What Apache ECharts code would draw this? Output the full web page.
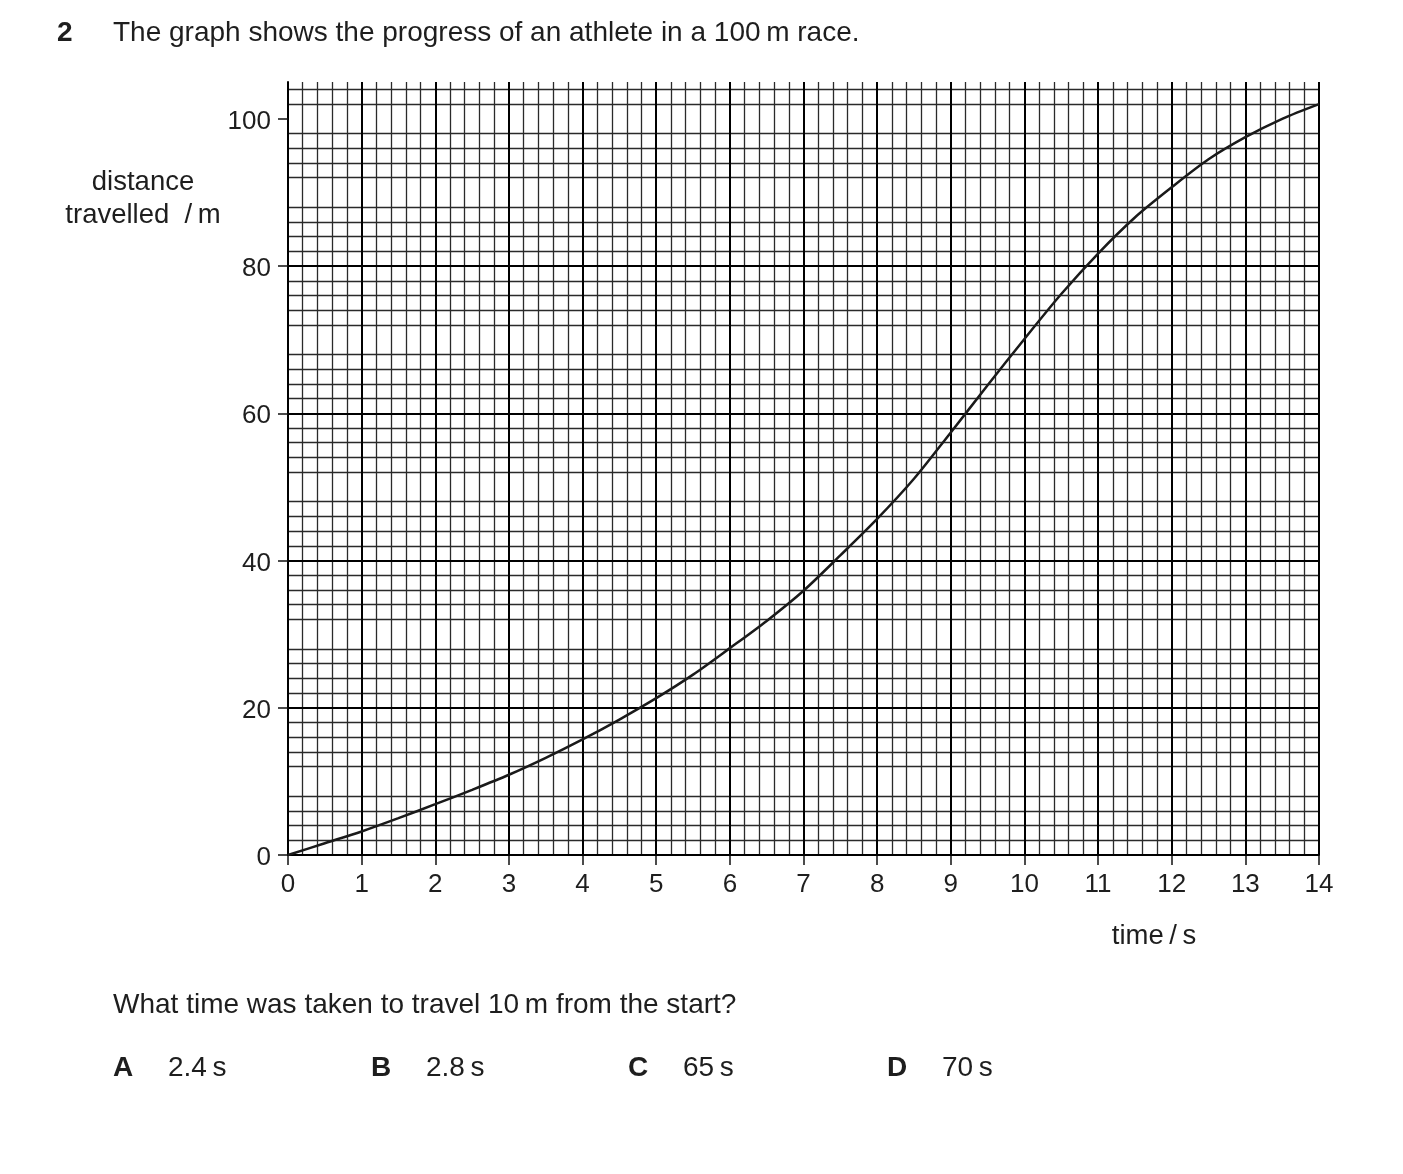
<!DOCTYPE html>
<html>
<head>
<meta charset="utf-8">
<script src="https://cdn.jsdelivr.net/npm/echarts@6/dist/echarts.min.js"></script>
<style>
html,body{margin:0;padding:0;background:#fff;}
#chart{width:1403px;height:1174px;}
</style>
</head>
<body>
<div id="chart"></div>
<script>
// Time (s) and distance travelled (m)
const times = [0,0.5,1,1.5,2,2.5,3,3.5,4,4.5,5,5.5,6,6.5,7,7.5,8,8.5,9,9.5,10,10.5,11,11.5,12,12.5,13,13.5,14];
const distances = [0,1.6,3.2,5.0,6.9,8.85,10.9,13.2,15.7,18.4,21.3,24.5,28.1,31.8,35.9,40.7,45.65,51.1,57.4,63.8,70.1,76.2,81.7,86.6,90.7,94.5,97.5,100,102.0];
const yLabelValues = [0,20,40,60,80,100];
const options = [
  {letter:'A', text:'2.4\u2009s'},
  {letter:'B', text:'2.8\u2009s'},
  {letter:'C', text:'65\u2009s'},
  {letter:'D', text:'70\u2009s'}
];

const FONT = "'Liberation Sans', Arial, Helvetica, sans-serif";
const TXT = '#1e1e1e';
const chart = echarts.init(document.getElementById('chart'), null, {renderer:'canvas'});

const optX = [113, 371, 628, 887];
function txt(x, y, text, size, extra){
  return {type:'text', x:x, y:y, style:Object.assign({text:text, font:size+'px '+FONT, fill:TXT, verticalAlign:'middle', align:'left'}, extra||{})};
}
const graphics = [
  txt(57, 33, '2', 'bold 28'),
  txt(113, 33, 'The graph shows the progress of an athlete in a 100\u2009m race.', 28),
  txt(143, 182, 'distance', 27.5, {align:'center'}),
  txt(143, 215, 'travelled  /\u2009m', 27.5, {align:'center'}),
  txt(1154, 936, 'time\u2009/\u2009s', 27.5, {align:'center'}),
  txt(113, 1005, 'What time was taken to travel 10\u2009m from the start?', 28)
];
options.forEach((o,i)=>{
  graphics.push(txt(optX[i], 1068, o.letter, 'bold 28'));
  graphics.push(txt(optX[i]+55, 1068, o.text, 28));
});

chart.setOption({
  animation:false,
  backgroundColor:'#fff',
  grid:{left:288, top:82, width:1031, height:773},
  graphic: graphics,
  xAxis:{
    type:'value', min:0, max:14, interval:1,
    axisLine:{show:true, lineStyle:{color:'#000', width:2}},
    axisTick:{show:true, length:10, lineStyle:{color:'#111', width:1.5}},
    axisLabel:{fontSize:26, color:TXT, fontFamily:FONT, margin:17},
    splitLine:{show:true, lineStyle:{color:'#000', width:2}},
    minorTick:{show:false, splitNumber:5},
    minorSplitLine:{show:true, lineStyle:{color:'#2a2a2a', width:1.3}}
  },
  yAxis:[
    {
      type:'value', position:'left', min:0, max:105, interval:2, z:0,
      axisLine:{show:false}, axisTick:{show:false}, axisLabel:{show:false},
      splitLine:{show:true, showMaxLine:false, lineStyle:{color:['transparent','#2a2a2a','#2a2a2a','#2a2a2a','#2a2a2a'], width:1.3}}
    },
    {
      type:'value', position:'left', min:0, max:105, interval:10, z:1,
      axisLine:{show:true, lineStyle:{color:'#000', width:2}},
      axisTick:{show:true, length:10, customValues:yLabelValues, lineStyle:{color:'#111', width:1.5}},
      axisLabel:{show:true, customValues:yLabelValues, fontSize:26, color:TXT, fontFamily:FONT, margin:17, verticalAlign:'top', lineHeight:6},
      splitLine:{show:true, showMaxLine:false, lineStyle:{color:'#000', width:2}}
    }
  ],
  series:[{
    type:'line', xAxisIndex:0, yAxisIndex:1,
    data: times.map((t,i)=>[t, distances[i]]),
    smooth:0.3, showSymbol:false, symbol:'none',
    lineStyle:{color:'#1a1a1a', width:2.5},
    z:5
  }]
});
</script>
</body>
</html>
